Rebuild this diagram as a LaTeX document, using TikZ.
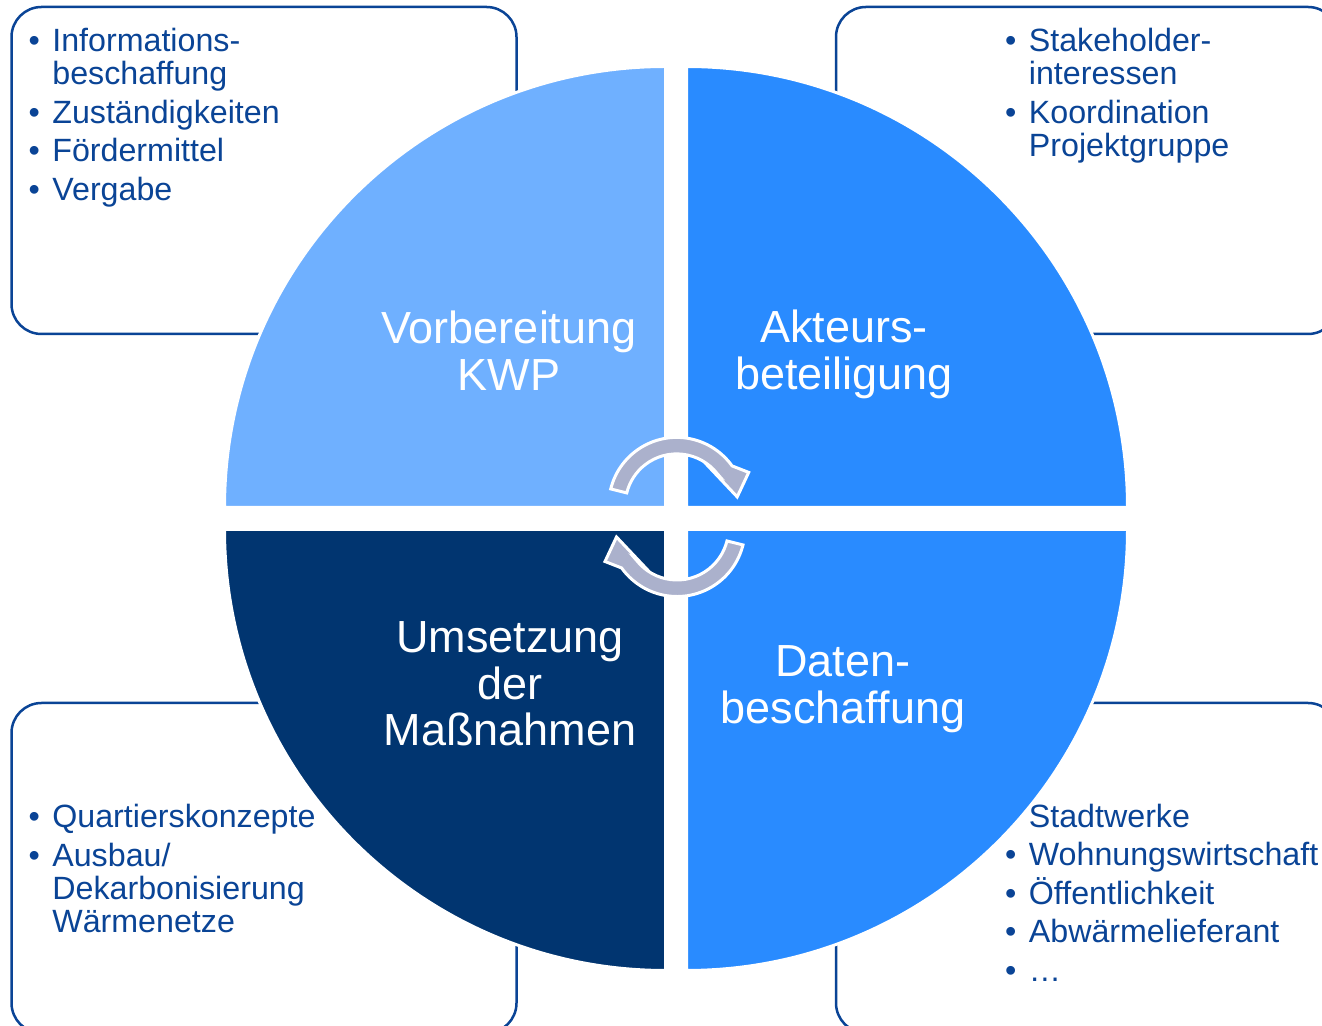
\documentclass[tikz,border=0pt]{standalone}
\usepackage{fontspec}
\setmainfont{Liberation Sans}
\definecolor{lightblue}{RGB}{111,176,255}
\definecolor{midblue}{RGB}{41,139,255}
\definecolor{darkblue}{RGB}{1,53,112}
\definecolor{boxblue}{RGB}{10,68,150}
\definecolor{textblue}{RGB}{10,68,150}
\definecolor{arrowgray}{RGB}{171,177,204}
\newcommand\lbul{\makebox[23.7pt][l]{•}}
\newcommand\lind{\hspace*{23.7pt}}
\newcommand\listbox[1]{\parbox[t]{400pt}{\lineskiplimit=-100pt\raggedright #1}}
\newcommand\labelbox[1]{\parbox[t]{320pt}{\lineskiplimit=-100pt\centering #1}}
\begin{document}
\begin{tikzpicture}[x=1pt,y=1pt,
  infobox/.style={draw=boxblue, line width=2.5pt, rounded corners=30pt},
  listtext/.style={anchor=base west, inner sep=0pt, text=textblue, font=\fontsize{32.2}{33}\selectfont},
  phaselabel/.style={anchor=base, inner sep=0pt, text=white, font=\fontsize{45}{46.5}\selectfont},
  sector/.style={draw=white, line width=3pt, line join=miter},
  cyclearrow/.style={fill=arrowgray, draw=white, line width=3pt, line join=miter}]
\useasboundingbox (0,0) rectangle (1322,1025);
\clip (0,0) rectangle (1322,1025);
\fill[white] (0,0) rectangle (1322,1025);

% info boxes
\draw[infobox] (11.5,1018) rectangle (516.5,691);
\draw[infobox] (836,1018) rectangle (1338,691);
\draw[infobox] (11.5,322) rectangle (516.5,-8);
\draw[infobox] (836,322) rectangle (1338,-8);

% lists
\node[listtext] (listTL) at (28.5,973) {\listbox{%
  \lbul Informations-\\
  \lind beschaffung\\[5.5pt]
  \lbul Zuständigkeiten\\[5.5pt]
  \lbul Fördermittel\\[5.5pt]
  \lbul Vergabe}};
\node[listtext] (listTR) at (1005,973) {\listbox{%
  \lbul Stakeholder-\\
  \lind interessen\\[5.5pt]
  \lbul Koordination\\
  \lind Projektgruppe}};
\node[listtext] (listBL) at (28.5,197) {\listbox{%
  \lbul Quartierskonzepte\\[5.5pt]
  \lbul Ausbau/\\
  \lind Dekarbonisierung\\
  \lind Wärmenetze}};
\node[listtext] (listBR) at (1005,197.5) {\listbox{%
  \lind Stadtwerke\\[5.5pt]
  \lbul Wohnungswirtschaft\\[5.5pt]
  \lbul Öffentlichkeit\\[5.5pt]
  \lbul Abwärmelieferant\\[5.5pt]
  \lbul …}};

% quarter sectors
\draw[sector, fill=lightblue] (665.5,517.5) -- (224.5,517.5) arc[start angle=180, end angle=90, radius=441] -- cycle;
\draw[sector, fill=midblue] (686.5,517.5) -- (686.5,958.5) arc[start angle=90, end angle=0, radius=441] -- cycle;
\draw[sector, fill=darkblue] (665.5,495.5) -- (665.5,54.5) arc[start angle=270, end angle=180, radius=441] -- cycle;
\draw[sector, fill=midblue] (686.5,495.5) -- (1127.5,495.5) arc[start angle=0, end angle=-90, radius=441] -- cycle;

% phase labels
\node[phaselabel] (prep) at (509,681) {\labelbox{Vorbereitung\\KWP}};
\node[phaselabel] (actors) at (844,682) {\labelbox{Akteurs-\\beteiligung}};
\node[phaselabel] (impl) at (510,372) {\labelbox{Umsetzung\\der\\Maßnahmen}};
\node[phaselabel] (data) at (843,348) {\labelbox{Daten-\\beschaffung}};

% circular arrows
\begin{scope}[shift={(676.7,519.6)}]
\draw[cyclearrow] (166:68) arc[start angle=166, end angle=35.5, radius=68]
  -- (72,33) -- (60.5,8.5) -- (35.5,35) -- (38:51.5)
  arc[start angle=38, end angle=166, radius=51.5] -- cycle;
\end{scope}
\begin{scope}[shift={(677,496.5)}, rotate=180]
\draw[cyclearrow] (166:68) arc[start angle=166, end angle=35.5, radius=68]
  -- (72,33) -- (60.5,8.5) -- (35.5,35) -- (38:51.5)
  arc[start angle=38, end angle=166, radius=51.5] -- cycle;
\end{scope}
\end{tikzpicture}
\end{document}
